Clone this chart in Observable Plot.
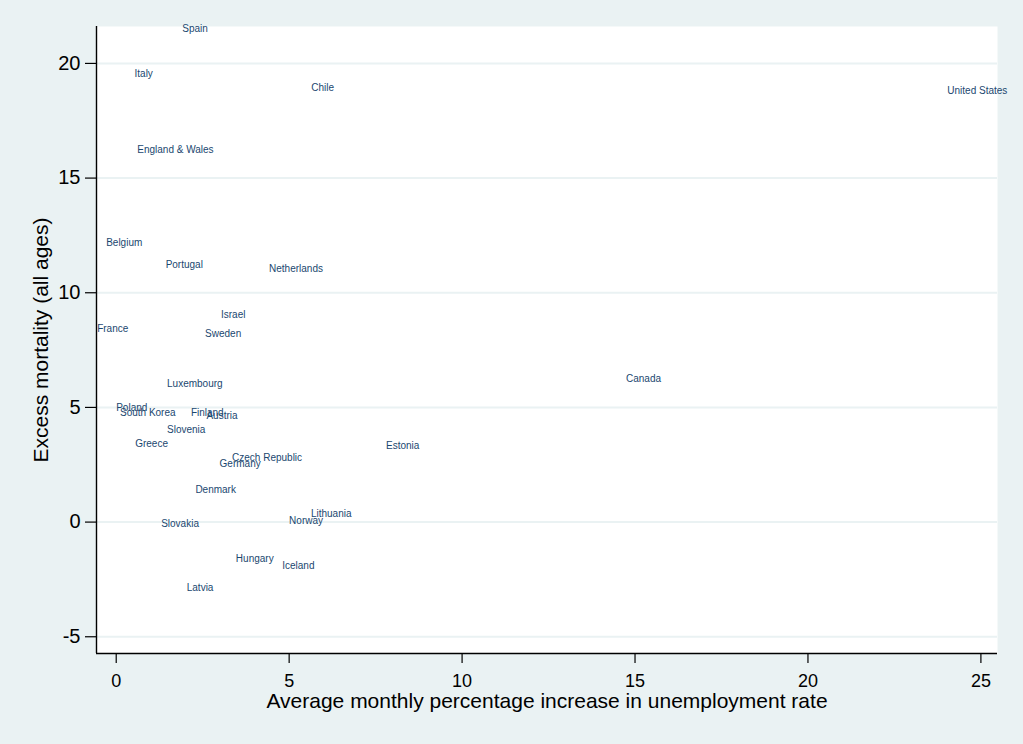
<!DOCTYPE html>
<html>
<head>
<meta charset="utf-8">
<script src="https://cdn.jsdelivr.net/npm/d3@7"></script>
<script src="https://cdn.jsdelivr.net/npm/@observablehq/plot@0.6"></script>
<style>
  html, body { margin: 0; padding: 0; background: #eaf2f3; }
  #chart svg { display: block; }
</style>
</head>
<body>
<div id="chart"></div>
<script>
const countries = ["Spain","Italy","Chile","United States","England & Wales","Belgium","Portugal","Netherlands","Israel","France","Sweden","Canada","Luxembourg","Poland","South Korea","Finland","Austria","Slovenia","Greece","Estonia","Czech Republic","Germany","Denmark","Lithuania","Norway","Slovakia","Hungary","Iceland","Latvia"];
const unemploymentIncrease = [1.88,0.50,5.61,24.00,0.58,-0.32,1.40,4.39,3.00,-0.58,2.54,14.71,1.44,-0.03,0.08,2.13,2.58,1.44,0.52,7.77,3.32,2.96,2.26,5.60,4.97,1.27,3.43,4.77,2.01];
const excessMortality = [21.50,19.56,18.92,18.80,16.24,12.19,11.21,11.05,9.02,8.41,8.20,6.23,6.05,4.99,4.77,4.77,4.62,4.01,3.40,3.34,2.79,2.54,1.41,0.36,0.07,-0.07,-1.58,-1.89,-2.88];
const xTicks = [0,5,10,15,20,25];
const yTicks = [-5,0,5,10,15,20];
const xDomain = [-0.57, 25.48];
const yDomain = [-5.73, 21.61];
const xTitle = "Average monthly percentage increase in unemployment rate";
const yTitle = "Excess mortality (all ages)";

const data = countries.map((c, i) => ({country: c, x: unemploymentIncrease[i], y: excessMortality[i]}));

const font = "'Liberation Sans', Arial, Helvetica, sans-serif";

const chart = Plot.plot({
  width: 1023,
  height: 744,
  marginLeft: 96,
  marginRight: 26,
  marginTop: 26,
  marginBottom: 91,
  style: {background: "#eaf2f3", fontFamily: font, color: "black"},
  x: {domain: xDomain},
  y: {domain: yDomain},
  marks: [
    Plot.frame({fill: "white", stroke: null}),
    Plot.gridY(yTicks, {stroke: "#eaf2f3", strokeOpacity: 1, strokeWidth: 2}),
    Plot.ruleX([xDomain[0]], {stroke: "black", strokeWidth: 1.4}),
    Plot.ruleY([yDomain[0]], {stroke: "black", strokeWidth: 1.4}),
    Plot.axisY(yTicks, {tickSize: 11, tickPadding: 5, fontSize: 20, label: null, stroke: "black", strokeWidth: 1.2, tickFormat: d => String(d)}),
    Plot.axisX(xTicks, {tickSize: 10, tickPadding: 11, fontSize: 18, label: null, stroke: "black", strokeWidth: 1.2, tickFormat: d => String(d)}),
    Plot.text(data, {x: "x", y: "y", text: "country", textAnchor: "start", dx: 1, fill: "#1a476f", fontSize: 10, fontFamily: font}),
    Plot.text([xTitle], {frameAnchor: "bottom", dy: 48, lineAnchor: "middle", textAnchor: "middle", fontSize: 21, fill: "black", fontFamily: font}),
    Plot.text([yTitle], {frameAnchor: "left", dx: -55, rotate: -90, lineAnchor: "middle", textAnchor: "middle", fontSize: 21, fill: "black", fontFamily: font})
  ]
});
document.getElementById("chart").appendChild(chart);
</script>
</body>
</html>
